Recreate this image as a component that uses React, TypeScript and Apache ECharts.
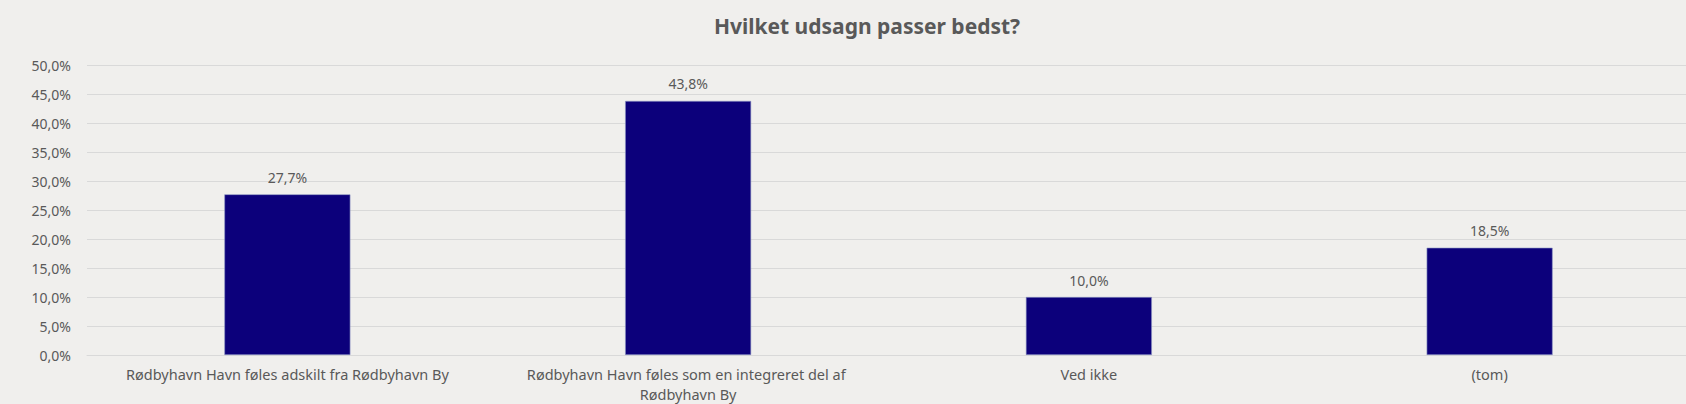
import React, { useEffect, useRef } from "react";
import * as echarts from "echarts";

const titleText = "Hvilket udsagn passer bedst?";
const categories = [
  "Rødbyhavn Havn føles adskilt fra Rødbyhavn By",
  "Rødbyhavn Havn føles som en integreret del af Rødbyhavn By",
  "Ved ikke",
  "(tom)",
];
const values = [27.7, 43.8, 10.0, 18.5];
const yMin = 0;
const yMax = 50;
const yStep = 5;

const fmt = (v: number) => v.toFixed(1).replace(".", ",") + "%";

const FONT = "'Noto Sans', 'DejaVu Sans', sans-serif";
const TEXT = "#595959";

export default function App() {
  const ref = useRef<HTMLDivElement>(null);
  useEffect(() => {
    document.body.style.margin = "0";
    const chart = echarts.init(ref.current!, undefined, { renderer: "svg" });
    chart.setOption({
      animation: false,
      backgroundColor: "#f0efed",
      textStyle: { fontFamily: FONT },
      title: {
        text: titleText,
        left: 862,
        textAlign: "center",
        top: 10,
        textStyle: { fontFamily: FONT, fontSize: 21, fontWeight: "bold", color: TEXT },
      },
      grid: {
        left: 87,
        right: -4,
        top: 65,
        bottom: 49,
        containLabel: false,
        outerBoundsMode: "none",
      },
      xAxis: {
        type: "category",
        data: categories,
        axisLine: { show: true, lineStyle: { color: "#d9d9d9", width: 1 } },
        axisTick: { show: false },
        axisLabel: {
          color: TEXT,
          fontFamily: FONT,
          fontSize: 14.5,
          margin: 9,
          lineHeight: 20,
          width: 380,
          overflow: "break",
          interval: 0,
        },
      },
      yAxis: {
        type: "value",
        min: yMin,
        max: yMax,
        interval: yStep,
        axisLine: { show: false },
        axisTick: { show: false },
        splitLine: { lineStyle: { color: "#d9d9d9", width: 1 } },
        axisLabel: {
          color: TEXT,
          fontFamily: FONT,
          fontSize: 14,
          margin: 16,
          formatter: (v: number) => fmt(v),
        },
      },
      series: [
        {
          type: "bar",
          data: values,
          barWidth: 126,
          itemStyle: { color: "#0c007b", borderColor: "#8f97c4", borderWidth: 0.6 },
          label: {
            show: true,
            position: "top",
            distance: 10,
            color: TEXT,
            fontFamily: FONT,
            fontSize: 14,
            formatter: (p: any) => fmt(p.value),
          },
        },
      ],
    });
    return () => chart.dispose();
  }, []);
  return (
    <div
      ref={ref}
      style={{ position: "absolute", left: 0, top: 0, width: 1686, height: 404 }}
    />
  );
}
